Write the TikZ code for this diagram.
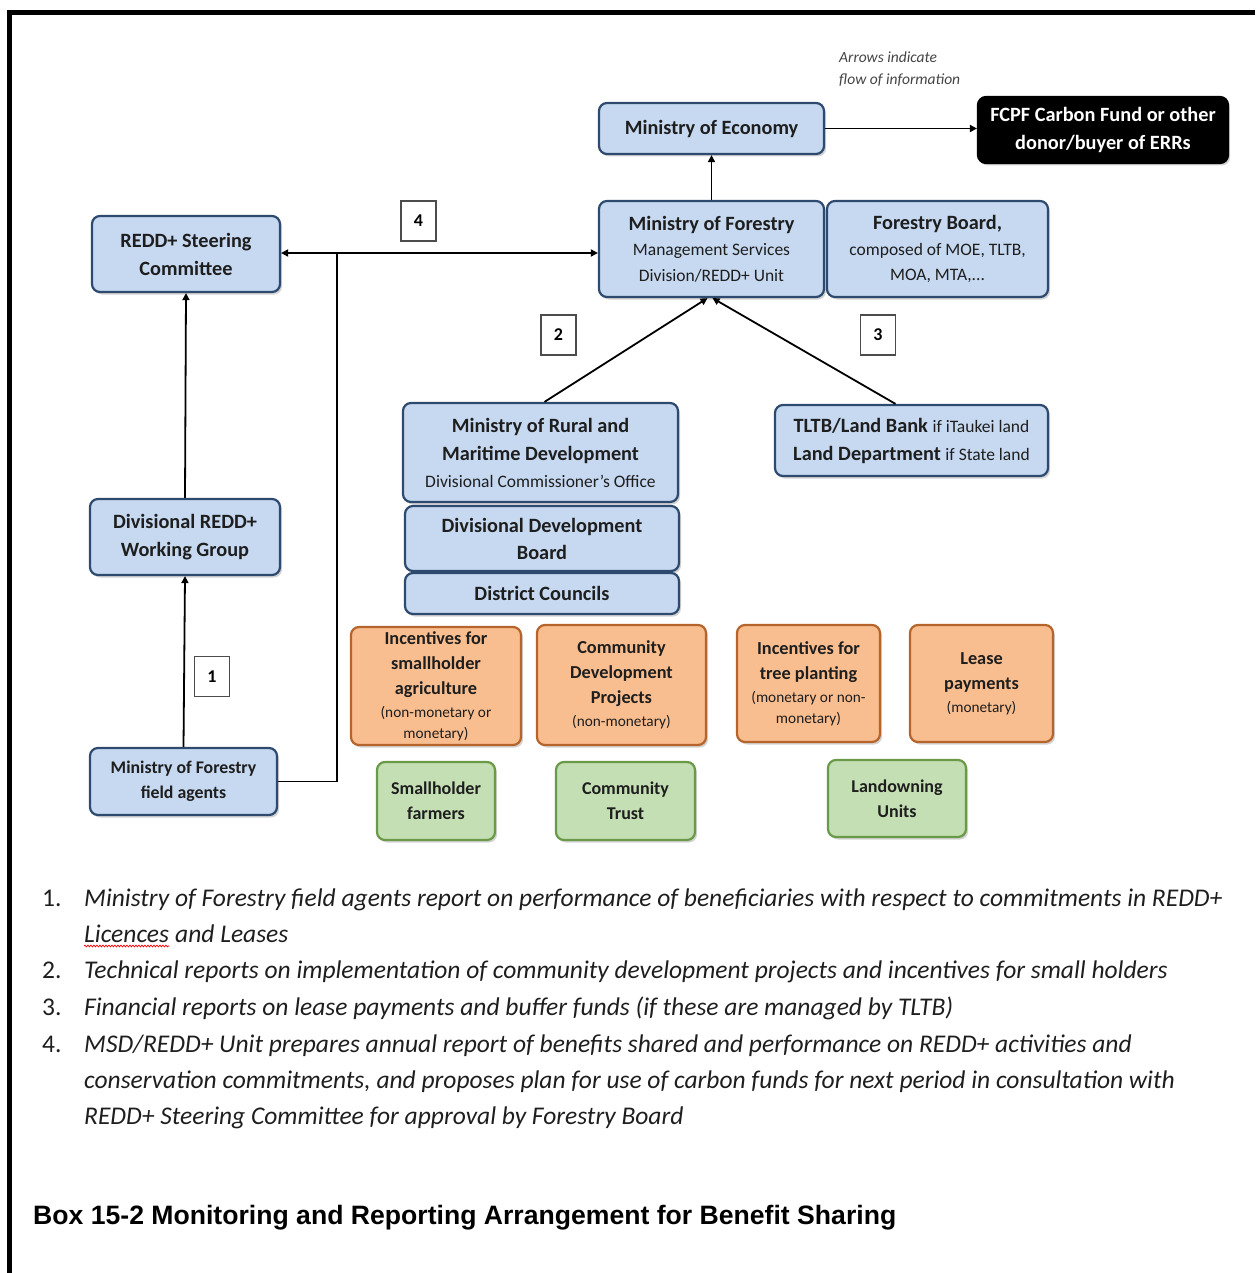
\documentclass[tikz,border=0pt]{standalone}
\usepackage{fontspec}
\setmainfont{Carlito}
\newfontfamily\capfont{Liberation Sans}
\usetikzlibrary{arrows.meta,shadows,decorations.pathmorphing}

\definecolor{bluefill}{HTML}{C6D9F1}
\definecolor{blueline}{HTML}{2E4A6E}
\definecolor{orangefill}{HTML}{F9BE8F}
\definecolor{orangeline}{HTML}{B5652B}
\definecolor{greenfill}{HTML}{C4DFB3}
\definecolor{greenline}{HTML}{6A9A48}
\definecolor{inkgray}{HTML}{1E1E1E}
\definecolor{notegray}{HTML}{444444}

\newcommand\subtx{\fontsize{17.5}{26}\selectfont\mdseries}
\newcommand\smalltx{\fontsize{15.3}{20}\selectfont\mdseries}

\begin{document}
\begin{tikzpicture}[x=1pt,y=-1pt,
  box/.style={draw, rounded corners=8pt, line width=2.2pt, inner sep=0pt,
    align=center, text=inkgray,
    drop shadow={shadow xshift=2pt, shadow yshift=-2.5pt, opacity=0.35}},
  bluebox/.style={box, draw=blueline, fill=bluefill},
  orangebox/.style={box, draw=orangeline, fill=orangefill,
    font=\fontsize{18.3}{25}\selectfont\bfseries},
  greenbox/.style={box, draw=greenline, fill=greenfill,
    font=\fontsize{18}{25}\selectfont\bfseries},
  darkbox/.style={box, draw=black, fill=black, text=white},
  numbox/.style={draw=black!70, line width=1.2pt, fill=white, inner sep=0pt,
    minimum width=35, minimum height=40, font=\fontsize{18}{20}\selectfont\bfseries},
  conn/.style={line width=1.8pt, -{Triangle[length=7pt,width=7pt]}},
  plain/.style={line width=1.8pt},
  listtext/.style={anchor=base west, inner sep=0pt, text=inkgray,
    font=\fontsize{25.5}{30}\selectfont\itshape},
  listnum/.style={anchor=base west, inner sep=0pt, text=inkgray,
    font=\fontsize{25.5}{30}\selectfont}
]
\useasboundingbox (0,0) rectangle (1255,1273);

% frame on the left and top
\draw[line width=5pt] (9.5,1273) -- (9.5,12.5) -- (1255,12.5);

% upper level
\node[bluebox, minimum width=225, minimum height=51,
  font=\fontsize{20.3}{27}\selectfont\bfseries] (eco) at (711.5,128.5) {Ministry of Economy};
\node[darkbox, minimum width=250, minimum height=66,
  font=\fontsize{20.3}{28}\selectfont\bfseries] (fcpf) at (1103,130)
  {FCPF Carbon Fund or other\\donor/buyer of ERRs};
\node[anchor=north west, inner sep=0pt, align=left, text=notegray,
  font=\fontsize{15.5}{22}\selectfont\itshape] (note) at (839,52)
  {Arrows indicate\\flow of information};

\node[bluebox, minimum width=225, minimum height=96,
  font=\fontsize{20.3}{25.5}\selectfont\bfseries] (mof) at (711.5,249)
  {Ministry of Forestry\\\subtx Management Services\\\subtx Division/REDD+ Unit};
\node[bluebox, minimum width=221, minimum height=96,
  font=\fontsize{20.3}{25.5}\selectfont\bfseries] (board) at (937.5,249)
  {Forestry Board,\\\subtx composed of MOE, TLTB,\\\subtx MOA, MTA,...};

% left column
\node[bluebox, minimum width=188, minimum height=76,
  font=\fontsize{20.3}{28}\selectfont\bfseries] (steer) at (186,254)
  {REDD+ Steering\\Committee};
\node[bluebox, minimum width=190, minimum height=76,
  font=\fontsize{20.3}{28}\selectfont\bfseries] (divwg) at (185,537)
  {Divisional REDD+\\Working Group};
\node[bluebox, minimum width=187, minimum height=67,
  font=\fontsize{17.8}{25}\selectfont\bfseries] (field) at (183.5,781.5)
  {Ministry of Forestry\\field agents};

% divisional administration stack
\node[bluebox, minimum width=275, minimum height=99,
  font=\fontsize{20.3}{28}\selectfont\bfseries] (rural) at (540.5,452.5)
  {Ministry of Rural and\\Maritime Development\\[-1pt]\subtx Divisional Commissioner’s Office};
\node[bluebox, minimum width=274, minimum height=65,
  font=\fontsize{20.3}{27}\selectfont\bfseries] (ddb) at (542,538.5)
  {Divisional Development\\Board};
\node[bluebox, minimum width=274, minimum height=41,
  font=\fontsize{20.3}{27}\selectfont\bfseries] (dist) at (542,593.5)
  {District Councils};

% land administration
\node[bluebox, minimum width=273, minimum height=71,
  font=\fontsize{20.3}{28}\selectfont\bfseries] (tltb) at (911.5,440.5)
  {TLTB/Land Bank {\subtx if iTaukei land}\\Land Department {\subtx if State land}};

% benefits
\node[orangebox, minimum width=170, minimum height=118] (inc1) at (436,686)
  {Incentives for\\smallholder\\agriculture\\[-2pt]\smalltx (non-monetary or\\[-4pt]\smalltx monetary)};
\node[orangebox, minimum width=169, minimum height=120] (cdp) at (621.5,685)
  {Community\\Development\\Projects\\[-2pt]\smalltx (non-monetary)};
\node[orangebox, minimum width=143, minimum height=117] (inc2) at (808.5,683.5)
  {Incentives for\\tree planting\\[-2pt]\smalltx (monetary or non-\\[-4pt]\smalltx monetary)};
\node[orangebox, minimum width=143, minimum height=117] (lease) at (981.5,683.5)
  {Lease\\payments\\[-2pt]\smalltx (monetary)};

% beneficiaries
\node[greenbox, minimum width=118, minimum height=78] (farm) at (436,801)
  {Smallholder\\farmers};
\node[greenbox, minimum width=139, minimum height=78] (trust) at (625.5,801)
  {Community\\Trust};
\node[greenbox, minimum width=138, minimum height=77] (units) at (897,798.5)
  {Landowning\\Units};

% information flows
\draw[conn] (eco.east) -- (fcpf.west |- eco.east);
\draw[conn] (mof.north) -- (eco.south);
\draw[conn] (field.north) -- (divwg.south);
\draw[conn] (divwg.north) -- (steer.south);
\coordinate (jn) at (337,253);
\draw[plain] (field.east) -| (jn);
\draw[conn] (jn) -- (steer.east |- jn);
\draw[conn] (jn) -- (mof.west |- jn);
\draw[conn] ([xshift=4pt]rural.north) -- ([xshift=-4pt]mof.south);
\draw[conn] ([xshift=-16pt]tltb.north) -- ([xshift=1pt]mof.south);

% flow numbers
\node[numbox] (n1) at (212,676.5) {1};
\node[numbox] (n2) at (558.5,335) {2};
\node[numbox] (n3) at (878,335) {3};
\node[numbox] (n4) at (418.5,221) {4};

% notes
\node[listnum] (k1) at (42,906) {1.};
\node[listtext] (t1) at (84,906) {Ministry of Forestry field agents report on performance of beneficiaries with respect to commitments in REDD+};
\node[listtext] (lic) at (84,942) {Licences};
\node[listtext, anchor=base west] (t1b) at (lic.base east) {\ and Leases};
\draw[red, line width=0.7pt, decorate, decoration={snake, amplitude=0.9pt, segment length=3pt}]
  ([yshift=-4pt]lic.base west) -- ([yshift=-4pt]lic.base east);
\node[listnum] (k2) at (42,978) {2.};
\node[listtext] (t2) at (84,978) {Technical reports on implementation of community development projects and incentives for small holders};
\node[listnum] (k3) at (42,1015) {3.};
\node[listtext] (t3) at (84,1015) {Financial reports on lease payments and buffer funds (if these are managed by TLTB)};
\node[listnum] (k4) at (42,1052) {4.};
\node[listtext] (t4) at (84,1052) {MSD/REDD+ Unit prepares annual report of benefits shared and performance on REDD+ activities and};
\node[listtext] (t4b) at (84,1088) {conservation commitments, and proposes plan for use of carbon funds for next period in consultation with};
\node[listtext] (t4c) at (84,1124) {REDD+ Steering Committee for approval by Forestry Board};

% caption
\node[anchor=base west, inner sep=0pt, font=\capfont\bfseries\fontsize{26.6}{30}\selectfont] (cap)
  at (33,1224) {Box 15-2 Monitoring and Reporting Arrangement for Benefit Sharing};
\end{tikzpicture}
\end{document}
